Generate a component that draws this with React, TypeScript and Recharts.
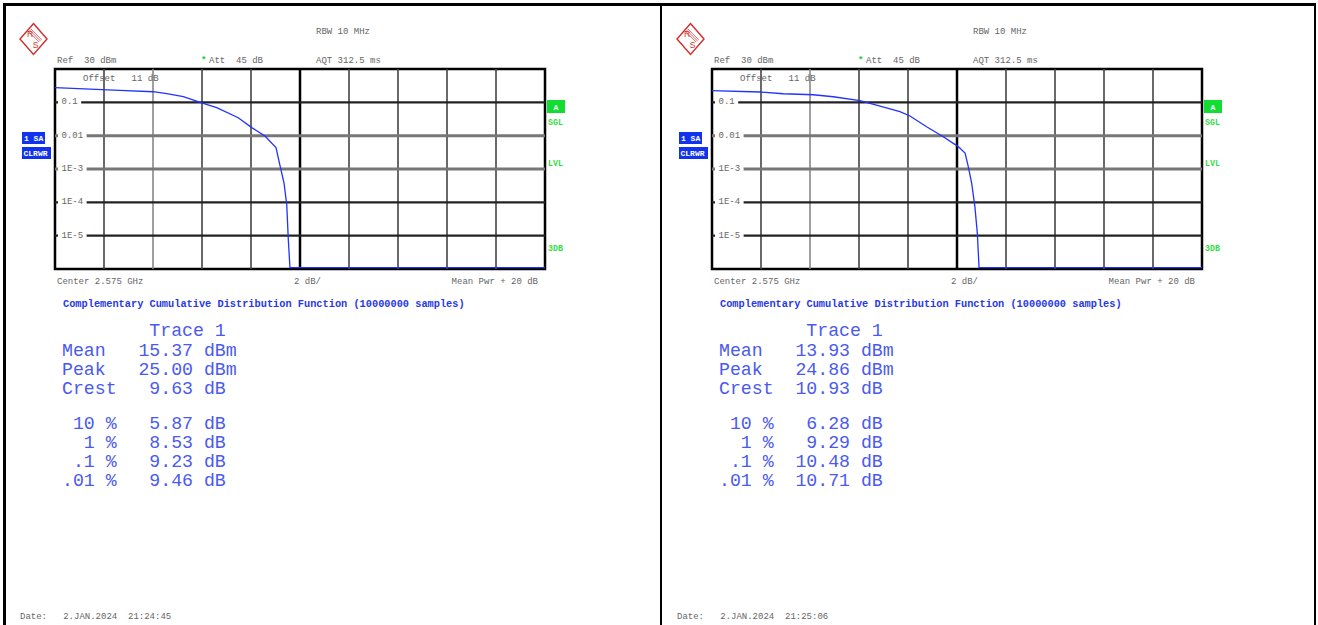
import React from 'react'
import { LineChart, Line, XAxis, YAxis, ReferenceLine, ReferenceArea } from 'recharts'

const MONO = '"Liberation Mono", "DejaVu Sans Mono", monospace'

// grid: 2 dB/div on x, decades on y
const gridDb = [2, 4, 6, 8, 10, 12, 14, 16, 18]
const gridProb = [0.1, 0.01, 1e-3, 1e-4, 1e-5]
const gridLabels = ['0.1', '0.01', '1E-3', '1E-4', '1E-5']

// CCDF traces (dB above mean power, probability)
const leftDb = [0, 1.67, 2.65, 4.0, 4.56, 5.24, 6.05, 6.6, 7.48, 8.03, 8.57, 9.02, 9.18, 9.35, 9.46, 9.52, 9.59, 20]
const leftProb = [0.275, 0.246, 0.229, 0.208, 0.182, 0.148, 0.093, 0.069, 0.0345, 0.0174, 0.0098, 0.0044, 0.0013, 3.7e-4, 8.3e-5, 8.3e-6, 1.1e-6, 1.1e-6]

const rightDb = [0, 1.96, 2.91, 4.13, 4.95, 6.04, 6.86, 7.67, 8.08, 8.76, 9.44, 10.05, 10.33, 10.46, 10.6, 10.73, 10.83, 10.9, 20]
const rightProb = [0.224, 0.204, 0.181, 0.169, 0.147, 0.112, 0.0776, 0.0524, 0.0389, 0.0186, 0.0093, 0.0047, 0.003, 0.00117, 3.7e-4, 7.4e-5, 1.17e-5, 1.1e-6, 1.1e-6]

// result table
const statNames = ['Mean   ', 'Peak   ', 'Crest  ']
const pctNames = [' 10 %  ', '  1 %  ', ' .1 %  ', '.01 %  ']
const leftStats = ['15.37 dBm', '25.00 dBm', ' 9.63 dB']
const leftPct = [' 5.87 dB', ' 8.53 dB', ' 9.23 dB', ' 9.46 dB']
const rightStats = ['13.93 dBm', '24.86 dBm', '10.93 dB']
const rightPct = [' 6.28 dB', ' 9.29 dB', '10.48 dB', '10.71 dB']

const TITLE = 'Complementary Cumulative Distribution Function (10000000 samples)'

const toRows = (db: number[], prob: number[]) => db.map((d, i) => ({ db: d, p: prob[i] }))

const GridLabel = (props: any) => {
  const { viewBox, text } = props
  if (!viewBox) return null
  const x = viewBox.x
  const y = viewBox.y
  const w = text.length * 5.4 + 7
  return (
    <g>
      <rect x={x + 3} y={y - 6} width={w} height={12} fill="#fff" />
      <text x={x + 6.5} y={y} dominantBaseline="central" fontFamily={MONO} fontSize={9} fill="#666">
        {text}
      </text>
    </g>
  )
}

const T = ({ x, y, children, size = 9, fill = '#666', weight = 400, anchor = 'start' }: any) => (
  <text
    x={x}
    y={y}
    dominantBaseline="central"
    textAnchor={anchor}
    fontFamily={MONO}
    fontSize={size}
    fontWeight={weight}
    fill={fill}
    style={{ whiteSpace: 'pre' }}
  >
    {children}
  </text>
)

function Logo() {
  const cx = 33.5
  const cy = 39
  return (
    <g>
      <polygon
        points={`${cx},${cy - 15.5} ${cx + 13.5},${cy} ${cx},${cy + 15.5} ${cx - 13.5},${cy}`}
        fill="none"
        stroke="#d42a2a"
        strokeWidth={1.4}
      />
      {[-1.2, 0, 1.2].map((o) => (
        <line key={o} x1={cx - 4 + o} y1={cy - 9 - o} x2={cx + 7 + o} y2={cy + 2 - o} stroke="#d42a2a" strokeWidth={0.7} />
      ))}
      <text x={cx - 3.5} y={cy - 5} textAnchor="middle" dominantBaseline="central" fontFamily="Liberation Sans" fontSize={8.5} fill="#d42a2a">R</text>
      <text x={cx + 2} y={cy + 6} textAnchor="middle" dominantBaseline="central" fontFamily="Liberation Sans" fontSize={8.5} fill="#d42a2a">S</text>
    </g>
  )
}

function Panel({ ox, db, prob, stats, pct, date }: any) {
  const data = toRows(db, prob)
  return (
    <div style={{ position: 'absolute', left: ox, top: 0, width: 657, height: 625 }}>
      <div style={{ position: 'absolute', left: 50, top: 64 }}>
        <LineChart width={500} height={210} data={data} margin={{ top: 5, right: 5, bottom: 5, left: 5 }}>
          <XAxis dataKey="db" type="number" domain={[0, 20]} hide allowDataOverflow />
          <YAxis type="number" scale="log" domain={[1e-6, 1]} hide allowDataOverflow />
          {gridDb.map((d) => (
            <ReferenceLine
              key={'v' + d}
              x={d}
              stroke={d === 10 ? '#000' : d === 4 ? '#888' : '#444'}
              strokeWidth={d === 10 ? 2.5 : 1.6}
            />
          ))}
          {gridProb.map((p, i) => (
            <ReferenceLine
              key={'h' + p}
              y={p}
              stroke={p === 0.01 || p === 1e-3 ? '#777' : '#222'}
              strokeWidth={p === 0.01 || p === 1e-3 ? 3 : 2.2}
              label={<GridLabel text={gridLabels[i]} />}
            />
          ))}
          <ReferenceArea x1={0} x2={20} y1={1e-6} y2={1} fill="none" stroke="#000" strokeWidth={2.5} />
          <Line
            dataKey="p"
            type="linear"
            stroke="#2233ff"
            strokeWidth={1.3}
            dot={false}
            isAnimationActive={false}
          />
        </LineChart>
      </div>
      <svg width={657} height={625} style={{ position: 'absolute', left: 0, top: 0, pointerEvents: 'none' }}>
        <Logo />
        <T x={316} y={32}>RBW 10 MHz</T>
        <T x={57} y={61}>Ref  30 dBm</T>
        <T x={201} y={61} fill="#22cc33" weight={700}>*</T>
        <T x={209} y={61}>Att  45 dB</T>
        <T x={316} y={61}>AQT 312.5 ms</T>
        <T x={83} y={79}>Offset   11 dB</T>

        <rect x={22} y={132} width={23} height={12} fill="#1133ee" />
        <T x={24} y={138.5} size={8} fill="#fff" weight={700}>1 SA</T>
        <rect x={22} y={147} width={29} height={12} fill="#1133ee" />
        <T x={23.5} y={153.5} size={8} fill="#fff" weight={700}>CLRWR</T>

        <rect x={547} y={100} width={18} height={13} fill="#11dd33" />
        <T x={556} y={107} size={8} fill="#fff" weight={700} anchor="middle">A</T>
        <T x={548} y={122} size={8.3} fill="#33dd44" weight={700}>SGL</T>
        <T x={548} y={163} size={8.3} fill="#33dd44" weight={700}>LVL</T>
        <T x={548} y={248} size={8.3} fill="#33dd44" weight={700}>3DB</T>

        <T x={57} y={282}>Center 2.575 GHz</T>
        <T x={294} y={282}>2 dB/</T>
        <T x={538} y={282} anchor="end">Mean Pwr + 20 dB</T>

        <T x={63} y={304} size={10.3} fill="#2838e8" weight={700}>{TITLE}</T>

        <T x={62} y={331} size={18.2} fill="#4a5af0">{'        Trace 1'}</T>
        {statNames.map((n, i) => (
          <T key={n} x={62} y={350.5 + i * 19} size={18.2} fill="#4a5af0">{n + stats[i]}</T>
        ))}
        {pctNames.map((n, i) => (
          <T key={n} x={62} y={424 + i * 19} size={18.2} fill="#4a5af0">{n + pct[i]}</T>
        ))}

        <T x={20} y={617}>{date}</T>
      </svg>
    </div>
  )
}

export default function App() {
  return (
    <div style={{ position: 'relative', width: 1318, height: 625, overflow: 'hidden', background: '#fff' }}>
      <style>{'body{margin:0}'}</style>
      <Panel ox={0} db={leftDb} prob={leftProb} stats={leftStats} pct={leftPct} date="Date:   2.JAN.2024  21:24:45" />
      <Panel ox={657} db={rightDb} prob={rightProb} stats={rightStats} pct={rightPct} date="Date:   2.JAN.2024  21:25:06" />
      <div style={{ position: 'absolute', left: 3, top: 3, width: 1313, height: 2.5, background: '#000' }} />
      <div style={{ position: 'absolute', left: 3, top: 3, width: 2.5, height: 640, background: '#000' }} />
      <div style={{ position: 'absolute', left: 659.5, top: 3, width: 2.5, height: 640, background: '#000' }} />
      <div style={{ position: 'absolute', left: 1313.5, top: 3, width: 2.5, height: 640, background: '#000' }} />
    </div>
  )
}
